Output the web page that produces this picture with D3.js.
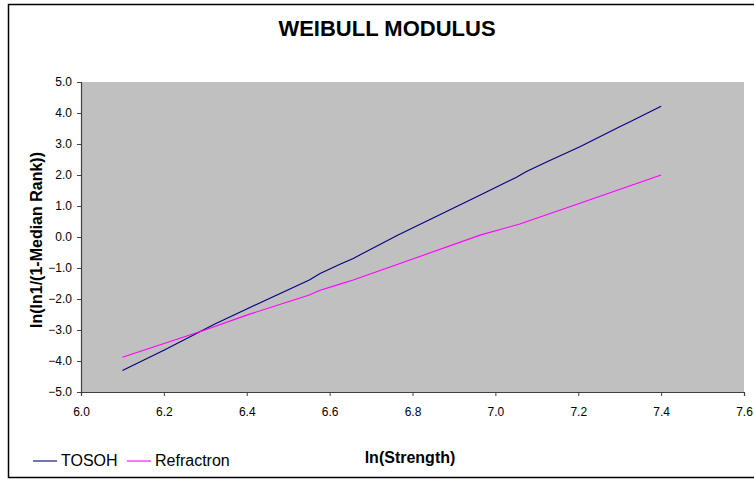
<!DOCTYPE html>
<html>
<head>
<meta charset="utf-8">
<script src="https://cdn.jsdelivr.net/npm/d3@7"></script>
<style>
  html, body { margin: 0; padding: 0; background: #fff; }
  svg { display: block; font-family: "Liberation Sans", Arial, sans-serif; }
</style>
</head>
<body>
<svg id="chart" width="754" height="479"></svg>
<script>
// ln(Strength) vs ln(ln(1/(1-Median Rank))) for two materials
const tosohX = [6.10, 6.20, 6.323, 6.40, 6.551, 6.577, 6.625, 6.657, 6.764, 6.955, 7.051, 7.075, 7.13, 7.204, 7.30, 7.325, 7.40];
const tosohY = [-4.31, -3.65, -2.81, -2.32, -1.39, -1.18, -0.88, -0.69, 0.06, 1.30, 1.93, 2.11, 2.46, 2.91, 3.56, 3.72, 4.22];
const refrX = [6.10, 6.299, 6.40, 6.551, 6.577, 6.625, 6.657, 6.963, 7.059, 7.204, 7.40];
const refrY = [-3.88, -3.00, -2.52, -1.87, -1.72, -1.52, -1.39, 0.06, 0.42, 1.09, 2.00];

const seriesNames = ["TOSOH", "Refractron"];
const seriesColors = ["#000080", "#FF00FF"];
const xTicks = [6.0, 6.2, 6.4, 6.6, 6.8, 7.0, 7.2, 7.4, 7.6];
const yTicks = [-5, -4, -3, -2, -1, 0, 1, 2, 3, 4, 5];

const svg = d3.select("#chart");

// outer chart frame
svg.append("rect")
  .attr("x", 8.5).attr("y", 4.5).attr("width", 760).attr("height", 473)
  .attr("fill", "#fff").attr("stroke", "#000").attr("stroke-width", 1.5);

const plot = { left: 81, top: 82, right: 744, bottom: 392 };
const x = d3.scaleLinear().domain([6.0, 7.6]).range([plot.left, plot.right]);
const y = d3.scaleLinear().domain([-5, 5]).range([plot.bottom, plot.top]);

svg.append("rect")
  .attr("x", plot.left).attr("y", plot.top)
  .attr("width", plot.right - plot.left).attr("height", plot.bottom - plot.top)
  .attr("fill", "#C0C0C0");

// axes
const yAxis = svg.append("g")
  .attr("transform", `translate(${plot.left},0)`)
  .call(d3.axisLeft(y).tickValues(yTicks).tickFormat(d3.format(".1f")).tickSize(4).tickPadding(4));
const xAxis = svg.append("g")
  .attr("transform", `translate(0,${plot.bottom})`)
  .call(d3.axisBottom(x).tickValues(xTicks).tickFormat(d3.format(".1f")).tickSize(4).tickPadding(11));

[yAxis, xAxis].forEach(g => {
  g.select(".domain").attr("stroke", "#404040").attr("stroke-width", 1.2);
  g.selectAll(".tick line").attr("stroke", "#404040");
  g.selectAll(".tick text").attr("fill", "#000").attr("font-size", 12)
    .attr("font-family", "\"Liberation Sans\", Arial, sans-serif");
});
yAxis.selectAll(".tick text").attr("dx", -1);

// series lines
const line = d3.line().x(d => x(d[0])).y(d => y(d[1]));
const seriesData = [
  d3.zip(tosohX, tosohY),
  d3.zip(refrX, refrY)
];
seriesData.forEach((pts, i) => {
  svg.append("path")
    .datum(pts)
    .attr("d", line)
    .attr("fill", "none")
    .attr("stroke", seriesColors[i])
    .attr("stroke-width", 1.1);
});

// titles
svg.append("text")
  .attr("x", 387).attr("y", 36)
  .attr("text-anchor", "middle")
  .attr("font-size", 22).attr("font-weight", "bold")
  .text("WEIBULL MODULUS");

svg.append("text")
  .attr("x", 410).attr("y", 463)
  .attr("text-anchor", "middle")
  .attr("font-size", 16).attr("font-weight", "bold")
  .text("ln(Strength)");

svg.append("text")
  .attr("transform", `translate(42,${(plot.top + plot.bottom) / 2 + 3}) rotate(-90)`)
  .attr("text-anchor", "middle")
  .attr("font-size", 16).attr("font-weight", "bold")
  .text("ln(ln1/(1-Median Rank))");

// legend
const legend = svg.append("g");
const legendX = [33, 127];
seriesNames.forEach((name, i) => {
  legend.append("line")
    .attr("x1", legendX[i]).attr("x2", legendX[i] + 24)
    .attr("y1", 461).attr("y2", 461)
    .attr("stroke", seriesColors[i]).attr("stroke-width", 1.1);
  legend.append("text")
    .attr("x", legendX[i] + 28).attr("y", 466)
    .attr("font-size", 16)
    .text(name);
});
</script>
</body>
</html>
